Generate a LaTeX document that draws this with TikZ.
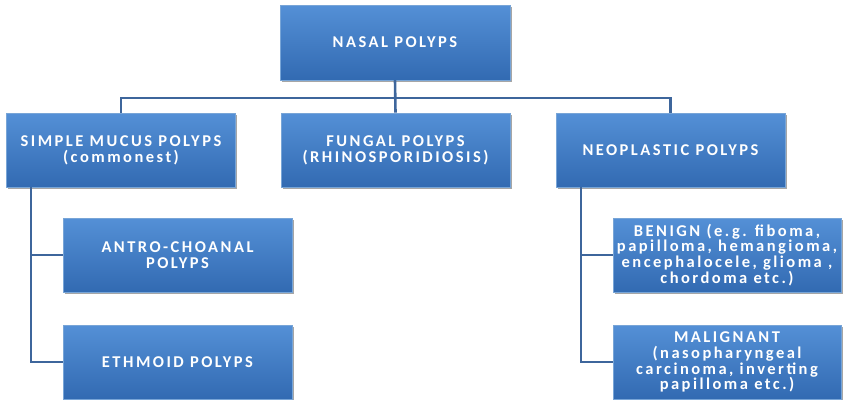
\documentclass[tikz,border=0pt]{standalone}
\usepackage{fontspec}
\setmainfont{Carlito}
\newfontfamily\boxfont{Carlito}[LetterSpace=15]
\usetikzlibrary{shadows}
\definecolor{boxtop}{RGB}{84,144,214}
\definecolor{boxbot}{RGB}{50,106,178}
\definecolor{boxline}{RGB}{120,165,215}
\definecolor{conn}{RGB}{62,102,156}
\tikzset{
  pbox/.style={draw=boxline, line width=0.6pt, top color=boxtop, bottom color=boxbot,
    minimum width=229pt, minimum height=74pt, inner sep=2pt, align=center,
    text=white, font=\boxfont\fontsize{16.5}{15.8}\selectfont\bfseries,
    drop shadow={shadow xshift=1.5pt, shadow yshift=-2pt, opacity=0.35, fill=black}},
  conline/.style={draw=conn, line width=2.6pt}
}
\begin{document}
\begin{tikzpicture}[x=1pt,y=-1pt]
\useasboundingbox (0,0) rectangle (843,399);
\node[pbox, minimum width=230pt, minimum height=75pt] (top) at (395,42.5) {NASAL POLYPS};
\node[pbox] (smp) at (121,150) {SIMPLE MUCUS POLYPS\\(commonest)};
\node[pbox] (fun) at (395.5,150) {FUNGAL POLYPS\\(RHINOSPORIDIOSIS)};
\node[pbox] (neo) at (670.5,150) {NEOPLASTIC POLYPS};
\node[pbox] (antro) at (177.5,255) {ANTRO-CHOANAL\\POLYPS};
\node[pbox] (eth) at (177.5,362) {ETHMOID POLYPS};
\node[pbox, minimum width=228pt] (ben) at (727,255) {BENIGN (e.g. fiboma,\\papilloma, hemangioma,\\encephalocele, glioma ,\\chordoma etc.)};
\node[pbox, minimum width=228pt] (mal) at (727,362) {MALIGNANT\\(nasopharyngeal\\carcinoma, inverting\\papilloma etc.)};
\draw[conline] (top.south) -- ++(0,-17.5pt) -| (smp.north);
\draw[conline] (top.south) -- ++(0,-17.5pt) -| (neo.north);
\draw[conline] (top.south) -- (fun.north);
\draw[conline] ([xshift=-90pt]smp.south) |- (antro.west);
\draw[conline] ([xshift=-90pt]smp.south) |- (eth.west);
\draw[conline] ([xshift=-89.5pt]neo.south) |- (ben.west);
\draw[conline] ([xshift=-89.5pt]neo.south) |- (mal.west);
\end{tikzpicture}
\end{document}
